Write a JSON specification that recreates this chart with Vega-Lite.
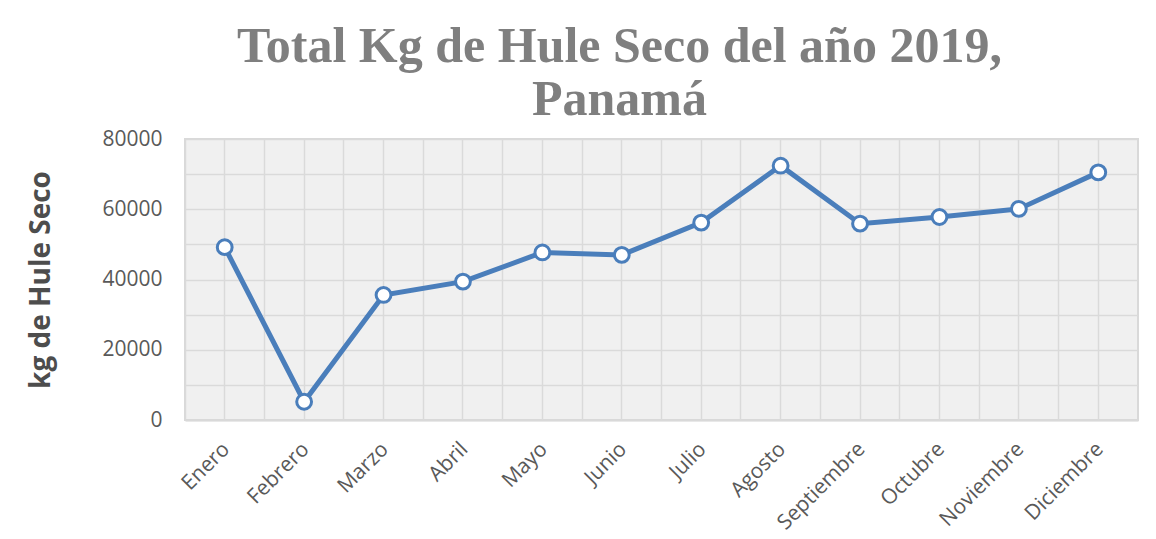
{
  "$schema": "https://vega.github.io/schema/vega-lite/v6.json",
  "width": 953,
  "height": 281,
  "autosize": {"type": "none"},
  "padding": {"left": 185, "top": 139, "right": 18, "bottom": 119},
  "background": "white",
  "title": {
    "text": ["Total Kg de Hule Seco del año 2019,", "Panamá"],
    "font": "Liberation Serif",
    "fontSize": 50,
    "fontWeight": "bold",
    "color": "#7f7f7f",
    "lineHeight": 53,
    "anchor": "middle",
    "frame": "group",
    "dx": -42,
    "dy": 10,
    "offset": 13
  },
  "data": {
    "values": [
      {"mes": "Enero", "kg": 49200},
      {"mes": "Febrero", "kg": 5200},
      {"mes": "Marzo", "kg": 35600},
      {"mes": "Abril", "kg": 39400},
      {"mes": "Mayo", "kg": 47700},
      {"mes": "Junio", "kg": 47000},
      {"mes": "Julio", "kg": 56200},
      {"mes": "Agosto", "kg": 72400},
      {"mes": "Septiembre", "kg": 55900},
      {"mes": "Octubre", "kg": 57800},
      {"mes": "Noviembre", "kg": 60100},
      {"mes": "Diciembre", "kg": 70500}
    ]
  },
  "config": {
    "view": {"fill": "#f0f0f0", "stroke": "#d9d9d9", "strokeWidth": 2}
  },
  "layer": [
    {
      "mark": {"type": "line", "color": "#4a7ebb", "strokeWidth": 5},
      "encoding": {
        "x": {
          "field": "mes",
          "type": "ordinal",
          "sort": null,
          "bandPosition": 0.5,
          "scale": {"type": "band", "paddingInner": 0, "paddingOuter": 0},
          "axis": {
            "title": null,
            "labelAngle": -45,
            "labelFont": "Open Sans",
            "labelFontSize": 21,
            "labelColor": "#595959",
            "labelPadding": 18,
            "labelOffset": -6,
            "ticks": false,
            "domain": true,
            "domainColor": "#d9d9d9",
            "domainWidth": 2,
            "grid": true,
            "gridColor": "#dadada",
            "gridWidth": 1.5,
            "bandPosition": 0.5
          }
        },
        "y": {
          "field": "kg",
          "type": "quantitative",
          "scale": {"domain": [0, 80000], "nice": false},
          "axis": {
            "title": "kg de Hule Seco",
            "titleFont": "Open Sans",
            "titleFontSize": 28,
            "titleFontWeight": "bold",
            "titleColor": "#4d4d4d",
            "titlePadding": 46,
            "values": [0, 10000, 20000, 30000, 40000, 50000, 60000, 70000, 80000],
            "format": "d",
            "labelExpr": "datum.value % 20000 === 0 ? datum.label : ''",
            "labelFont": "Open Sans",
            "labelFontSize": 21,
            "labelColor": "#595959",
            "labelPadding": 23,
            "ticks": false,
            "domain": false,
            "grid": true,
            "gridColor": "#dadada",
            "gridWidth": 1.5
          }
        }
      }
    },
    {
      "mark": {"type": "point", "filled": true, "fill": "white", "stroke": "#4a7ebb", "strokeWidth": 3, "size": 220, "opacity": 1},
      "encoding": {
        "x": {
          "field": "mes",
          "type": "ordinal",
          "sort": null,
          "bandPosition": 0.5,
          "scale": {"type": "band", "paddingInner": 0, "paddingOuter": 0},
          "axis": {
            "title": null,
            "labels": false,
            "ticks": false,
            "domain": false,
            "grid": true,
            "gridColor": "#dadada",
            "gridWidth": 1.5,
            "bandPosition": 0
          }
        },
        "y": {
          "field": "kg",
          "type": "quantitative",
          "scale": {"domain": [0, 80000], "nice": false},
          "axis": {
            "title": "kg de Hule Seco",
            "titleFont": "Open Sans",
            "titleFontSize": 28,
            "titleFontWeight": "bold",
            "titleColor": "#4d4d4d",
            "titlePadding": 46,
            "values": [0, 10000, 20000, 30000, 40000, 50000, 60000, 70000, 80000],
            "format": "d",
            "labelExpr": "datum.value % 20000 === 0 ? datum.label : ''",
            "labelFont": "Open Sans",
            "labelFontSize": 21,
            "labelColor": "#595959",
            "labelPadding": 23,
            "ticks": false,
            "domain": false,
            "grid": true,
            "gridColor": "#dadada",
            "gridWidth": 1.5
          }
        }
      }
    }
  ],
  "resolve": {"axis": {"x": "independent"}}
}
